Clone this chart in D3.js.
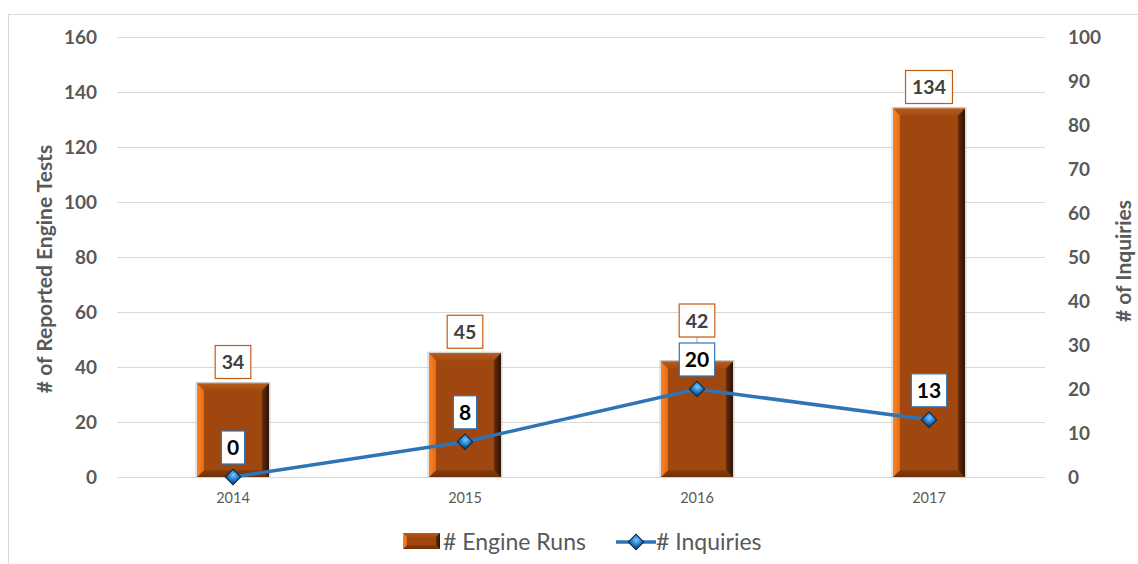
<!DOCTYPE html>
<html>
<head>
<meta charset="utf-8">
<script src="https://cdn.jsdelivr.net/npm/d3@7"></script>
<style>
  body { margin: 0; background: #fff; }
  text { font-family: Lato, "Open Sans", sans-serif; }
</style>
</head>
<body>
<svg id="chart" width="1138" height="564"></svg>
<script>
// chart data
const years = ["2014", "2015", "2016", "2017"];
const engineRuns = [34, 45, 42, 134];
const inquiries = [0, 8, 20, 13];
const leftTicks = [0, 20, 40, 60, 80, 100, 120, 140, 160];
const rightTicks = [0, 10, 20, 30, 40, 50, 60, 70, 80, 90, 100];

const rows = years.map((y, i) => ({ year: y, runs: engineRuns[i], inq: inquiries[i] }));

const svg = d3.select("#chart");
const plot = { left: 117, right: 1045, top: 37, bottom: 477 };

// outer frame
svg.append("rect")
    .attr("x", 8.5).attr("y", 14.5)
    .attr("width", 1140).attr("height", 560)
    .attr("fill", "none").attr("stroke", "#d9d9d9");

const x = d3.scaleBand()
    .domain(years)
    .range([plot.left, plot.right])
    .paddingInner(0.69)
    .paddingOuter(0.345);

const yL = d3.scaleLinear().domain([0, 160]).range([plot.bottom, plot.top]);
const yR = d3.scaleLinear().domain([0, 100]).range([plot.bottom, plot.top]);

// gradients
const defs = svg.append("defs");
function linGrad(id, x2, y2, stops) {
    const g = defs.append("linearGradient").attr("id", id)
        .attr("x1", 0).attr("y1", 0).attr("x2", x2).attr("y2", y2);
    stops.forEach(s => g.append("stop").attr("offset", s[0]).attr("stop-color", s[1]));
}
linGrad("bevLeft", 1, 0, [[0, "#ff8424"], [1, "#e06a14"]]);
linGrad("bevRight", 1, 0, [[0, "#6a2d07"], [1, "#2a1204"]]);
linGrad("bevTop", 0, 1, [[0, "#b85a1c"], [1, "#a44c12"]]);
linGrad("bevBot", 0, 1, [[0, "#8a3c0c"], [1, "#6e2f08"]]);
const rg = defs.append("radialGradient").attr("id", "dia")
    .attr("cx", 0.4).attr("cy", 0.35).attr("r", 0.7);
rg.append("stop").attr("offset", 0).attr("stop-color", "#7cc8ff");
rg.append("stop").attr("offset", 0.5).attr("stop-color", "#2f8fdb");
rg.append("stop").attr("offset", 1).attr("stop-color", "#0a4f8c");

// gridlines
svg.append("g")
    .selectAll("line")
    .data(leftTicks)
    .join("line")
    .attr("x1", plot.left).attr("x2", plot.right)
    .attr("y1", d => Math.round(yL(d)) + 0.5).attr("y2", d => Math.round(yL(d)) + 0.5)
    .attr("stroke", "#d9d9d9").attr("stroke-width", 1);

// left axis labels
svg.append("g")
    .selectAll("text")
    .data(leftTicks)
    .join("text")
    .attr("x", 97).attr("y", d => yL(d))
    .attr("dy", "0.35em")
    .attr("text-anchor", "end")
    .style("font-size", "19px").style("font-weight", "bold")
    .attr("fill", "#595959")
    .text(d => d);

// right axis labels
svg.append("g")
    .selectAll("text")
    .data(rightTicks)
    .join("text")
    .attr("x", 1068).attr("y", d => yR(d))
    .attr("dy", "0.35em")
    .attr("text-anchor", "start")
    .style("font-size", "19px").style("font-weight", "bold")
    .attr("fill", "#595959")
    .text(d => d);

// x labels
svg.append("g")
    .selectAll("text")
    .data(years)
    .join("text")
    .attr("x", d => x(d) + x.bandwidth() / 2)
    .attr("y", 498)
    .attr("dy", "0.35em")
    .attr("text-anchor", "middle")
    .style("font-size", "14.5px")
    .attr("fill", "#595959")
    .text(d => d);

// axis titles
svg.append("text")
    .attr("transform", `translate(52,${(plot.top + plot.bottom) / 2 + 12}) rotate(-90)`)
    .attr("text-anchor", "middle")
    .style("font-size", "21px").style("font-weight", "bold")
    .attr("fill", "#595959")
    .text("# of Reported Engine Tests");

svg.append("text")
    .attr("transform", `translate(1131,${(plot.top + plot.bottom) / 2 + 4}) rotate(-90)`)
    .attr("text-anchor", "middle")
    .style("font-size", "21px").style("font-weight", "bold")
    .attr("fill", "#595959")
    .text("# of Inquiries");

// bevelled bar
function bevelBar(g, x0, x1, yt, yb, b) {
    g.append("rect").attr("x", x0).attr("y", yt)
        .attr("width", x1 - x0).attr("height", yb - yt).attr("fill", "#a0470f");
    const poly = (pts, fill) => g.append("polygon")
        .attr("points", pts.map(p => p.join(",")).join(" ")).attr("fill", fill);
    poly([[x0, yt], [x1, yt], [x1 - b, yt + b], [x0 + b, yt + b]], "url(#bevTop)");
    poly([[x0, yb], [x1, yb], [x1 - b, yb - b], [x0 + b, yb - b]], "url(#bevBot)");
    poly([[x0, yt], [x0 + b, yt + b], [x0 + b, yb - b], [x0, yb]], "url(#bevLeft)");
    poly([[x1, yt], [x1 - b, yt + b], [x1 - b, yb - b], [x1, yb]], "url(#bevRight)");
}

const bars = svg.append("g");
rows.forEach(d => {
    const g = bars.append("g");
    g.append("rect")
        .attr("x", x(d.year) - 1).attr("y", yL(d.runs) - 1)
        .attr("width", x.bandwidth() + 2).attr("height", yL(0) - yL(d.runs) + 1)
        .attr("fill", "none").attr("stroke", "#c8c8c8").attr("stroke-width", 1);
    bevelBar(g, x(d.year), x(d.year) + x.bandwidth(), yL(d.runs), yL(0), 7);
});

// inquiries line
const line = d3.line()
    .x(d => x(d.year) + x.bandwidth() / 2)
    .y(d => yR(d.inq));

svg.append("path")
    .datum(rows)
    .attr("d", line)
    .attr("fill", "none")
    .attr("stroke", "#2e75b6")
    .attr("stroke-width", 3.5);

const diamond = d3.symbol().type(d3.symbolSquare).size(120);
svg.append("g")
    .selectAll("path")
    .data(rows)
    .join("path")
    .attr("d", diamond)
    .attr("transform", d => `translate(${x(d.year) + x.bandwidth() / 2},${yR(d.inq)}) rotate(45)`)
    .attr("fill", "url(#dia)")
    .attr("stroke", "#13243a").attr("stroke-width", 1);

// data labels
const labels = svg.append("g");
function labelBox(cx, bottom, txt, size, color, border, padX) {
    const g = labels.append("g");
    const r = g.append("rect");
    const t = g.append("text")
        .attr("x", cx).attr("text-anchor", "middle")
        .style("font-size", size + "px").style("font-weight", "bold")
        .attr("fill", color).text(txt);
    const w = t.node().getComputedTextLength() + padX * 2;
    const h = 33;
    r.attr("x", cx - w / 2).attr("y", bottom - h)
        .attr("width", w).attr("height", h)
        .attr("fill", "#fff").attr("stroke", border).attr("stroke-width", 1.2);
    t.attr("y", bottom - h / 2).attr("dy", "0.36em");
    return { top: bottom - h, bottom: bottom };
}

rows.forEach(d => {
    const cx = x(d.year) + x.bandwidth() / 2;
    const blue = { top: yR(d.inq) - 13 - 33, bottom: yR(d.inq) - 13 };
    let ob = yL(d.runs) - 5;
    // push the bar label above the line label when they collide
    if (ob > blue.top && ob - 33 < blue.bottom) {
        const nb = blue.top - 6;
        labels.append("line")
            .attr("x1", cx).attr("x2", cx)
            .attr("y1", nb).attr("y2", blue.top)
            .attr("stroke", "#a6a6a6");
        ob = nb;
    }
    labelBox(cx, ob, d.runs, 19.5, "#404040", "#c55a11", 6.5);
    labelBox(cx, blue.bottom, d.inq, 21, "#000", "#2e75b6", 5.5);
});

// legend
const legend = svg.append("g");
{
    const g = legend.append("g");
    bevelBar(g, 403, 440, 533, 549, 4);
    legend.append("text")
        .attr("x", 443).attr("y", 542).attr("dy", "0.35em")
        .style("font-size", "23px").attr("fill", "#595959")
        .text("# Engine Runs");
    legend.append("line")
        .attr("x1", 616).attr("x2", 656).attr("y1", 542).attr("y2", 542)
        .attr("stroke", "#2e75b6").attr("stroke-width", 3.5);
    legend.append("path")
        .attr("d", diamond)
        .attr("transform", "translate(636,542) rotate(45)")
        .attr("fill", "url(#dia)")
        .attr("stroke", "#13243a").attr("stroke-width", 1);
    legend.append("text")
        .attr("x", 656).attr("y", 542).attr("dy", "0.35em")
        .style("font-size", "23px").attr("fill", "#595959")
        .text("# Inquiries");
}
</script>
</body>
</html>
